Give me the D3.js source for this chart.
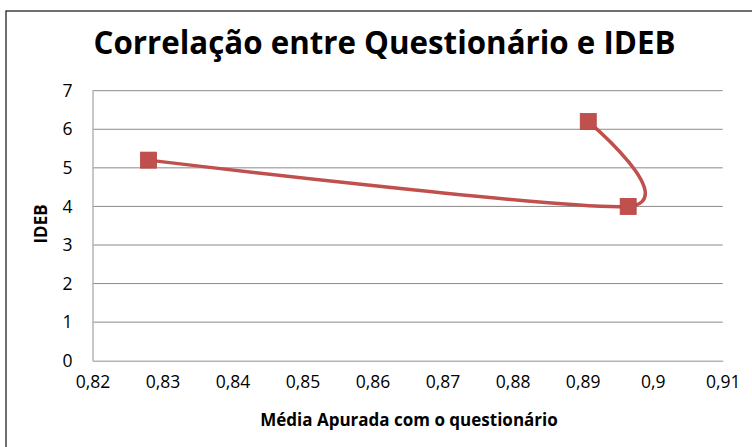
<!DOCTYPE html>
<html>
<head>
<meta charset="utf-8">
<script src="https://cdn.jsdelivr.net/npm/d3@7"></script>
<style>
  body { margin: 0; background: #fff; }
  svg { display: block; }
  .tick text { font-family: "Open Sans", sans-serif; font-size: 17.5px; fill: #000; }
</style>
</head>
<body>
<svg id="chart" width="752" height="447"></svg>
<script>
// dados
const mediaQuestionario = [0.828, 0.8965, 0.8908];
const ideb = [5.2, 4.0, 6.2];
const xTicks = [0.82, 0.83, 0.84, 0.85, 0.86, 0.87, 0.88, 0.89, 0.90, 0.91];
const yTicks = [0, 1, 2, 3, 4, 5, 6, 7];

const svg = d3.select('#chart');
const red = '#C0504D';

// moldura do gráfico
svg.append('rect')
  .attr('x', 6).attr('y', 11)
  .attr('width', 780).attr('height', 480)
  .attr('fill', 'none')
  .attr('stroke', '#222')
  .attr('stroke-width', 1.3);

const plotLeft = 92.5, plotRight = 722.7, plotTop = 90.7, plotBottom = 360.7;

const x = d3.scaleLinear().domain([0.82, 0.91]).range([plotLeft, plotRight]);
const y = d3.scaleLinear().domain([0, 7]).range([plotBottom, plotTop]);

// linhas de grade
svg.append('g')
  .selectAll('line')
  .data(yTicks.slice(1))
  .enter().append('line')
  .attr('x1', plotLeft).attr('x2', plotRight)
  .attr('y1', d => y(d)).attr('y2', d => y(d))
  .attr('stroke', '#8a8a8a')
  .attr('stroke-width', 1);

// eixos
const yAxis = svg.append('g')
  .attr('transform', `translate(${plotLeft},0)`)
  .call(d3.axisLeft(y).tickValues(yTicks).tickSize(0).tickPadding(20).tickFormat(d3.format('d')));
yAxis.select('.domain').attr('stroke', '#b5b5b5').attr('stroke-width', 1.5);

const fmt = d => String(+d.toFixed(2)).replace('.', ',');
const xAxis = svg.append('g')
  .attr('transform', `translate(0,${plotBottom})`)
  .call(d3.axisBottom(x).tickValues(xTicks).tickSize(0).tickPadding(15).tickFormat(fmt));
xAxis.select('.domain').attr('stroke', '#b5b5b5').attr('stroke-width', 1.5);

// título
svg.append('text')
  .attr('x', 384.5).attr('y', 54)
  .attr('text-anchor', 'middle')
  .attr('textLength', 582)
  .attr('lengthAdjust', 'spacingAndGlyphs')
  .style('font-family', '"Open Sans", sans-serif')
  .style('font-weight', 'bold')
  .style('font-size', '33px')
  .text('Correlação entre Questionário e IDEB');

// títulos dos eixos
svg.append('text')
  .attr('x', 409).attr('y', 426)
  .attr('text-anchor', 'middle')
  .style('font-family', '"Open Sans", sans-serif')
  .style('font-weight', 'bold')
  .style('font-size', '17px')
  .text('Média Apurada com o questionário');

svg.append('text')
  .attr('transform', 'translate(47,224) rotate(-90)')
  .attr('text-anchor', 'middle')
  .style('font-family', '"Open Sans", sans-serif')
  .style('font-weight', 'bold')
  .style('font-size', '17px')
  .text('IDEB');

// série
const pts = mediaQuestionario.map((v, i) => [v, ideb[i]]);
const line = d3.line()
  .x(d => x(d[0]))
  .y(d => y(d[1]))
  .curve(d3.curveCardinal.tension(0.25));

svg.append('path')
  .datum(pts)
  .attr('d', line)
  .attr('fill', 'none')
  .attr('stroke', red)
  .attr('stroke-width', 3.5);

svg.append('g')
  .selectAll('rect')
  .data(pts)
  .enter().append('rect')
  .attr('x', d => x(d[0]) - 8)
  .attr('y', d => y(d[1]) - 8)
  .attr('width', 16).attr('height', 16)
  .attr('fill', red)
  .attr('stroke', '#b8433f')
  .attr('stroke-width', 0.8);
</script>
</body>
</html>
